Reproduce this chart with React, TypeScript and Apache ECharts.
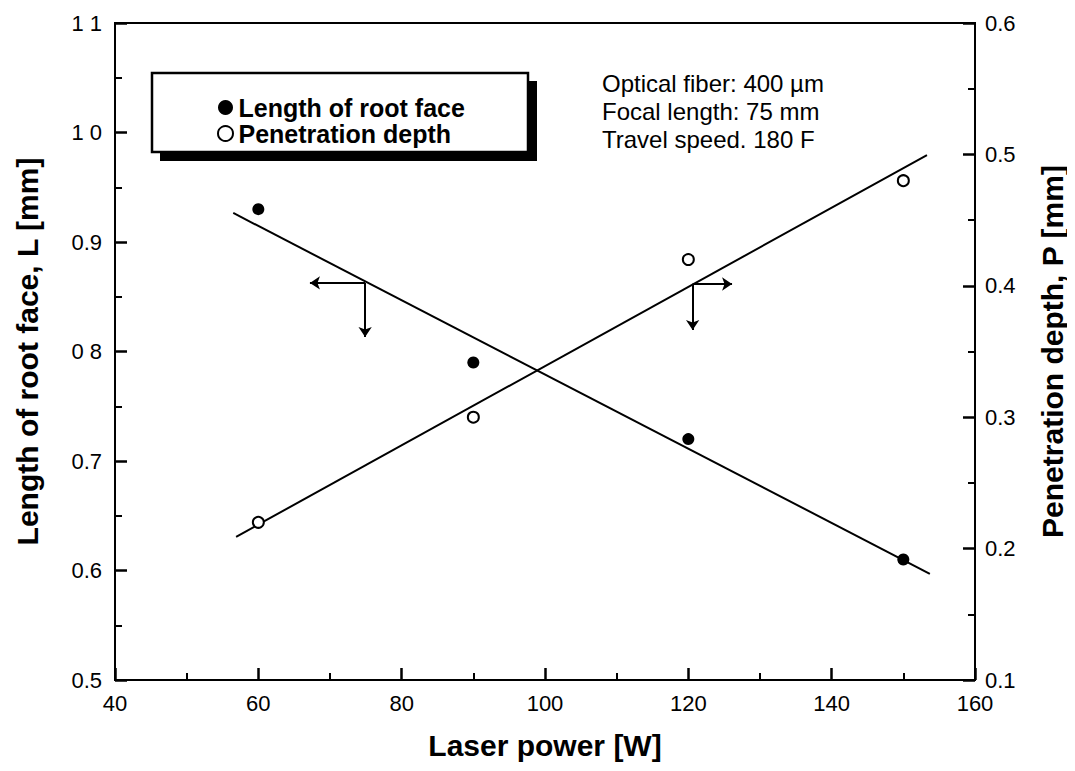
import React, { useEffect, useRef } from "react";
import * as echarts from "echarts";

const FONT = "'Liberation Sans', Arial, sans-serif";

// Laser power [W]
const laserPower = [60, 90, 120, 150];
// Length of root face, L [mm] (left axis)
const rootFace = [0.93, 0.79, 0.72, 0.61];
// Penetration depth, P [mm] (right axis)
const penetration = [0.22, 0.30, 0.42, 0.48];

// Linear fit lines (end points)
const rootFaceFit = [
  [56.5, 0.9265],
  [153.7, 0.597],
];
const penetrationFit = [
  [56.9, 0.209],
  [153.3, 0.4995],
];

// Axis-indicator arrows
const rootArrow = { x: 74.9, y: 0.8626, toX: 67.2, toY: 0.8132 };
const penArrow = { x: 120.6, y: 0.4014, toX: 126.1, toY: 0.3664 };

const leftLabelMap: Record<string, string> = { "1.1": "1 1", "1": "1 0", "0.8": "0 8" };

const annotationLines = [
  "Optical fiber: 400 \u00b5m",
  "Focal length: 75 mm",
  "Travel speed. 180 F",
];

export default function App() {
  const ref = useRef<HTMLDivElement>(null);
  useEffect(() => {
    if (!ref.current) return;
    const chart = echarts.init(ref.current, null, { renderer: "svg" });
    const axisCommon = {
      axisLine: { show: true, onZero: false, lineStyle: { color: "#000", width: 2 } },
      axisTick: { show: true, inside: true, length: 12, lineStyle: { color: "#000", width: 2.5 } },
      minorTick: { show: true, splitNumber: 2, length: 7, lineStyle: { color: "#000", width: 2 } },
      splitLine: { show: false },
      axisLabel: { color: "#000", fontSize: 22, fontFamily: FONT },
      nameTextStyle: { color: "#000", fontSize: 30, fontWeight: "bold", fontFamily: FONT },
    };
    const arrowLine = (a: { x: number; y: number; toX: number; toY: number }) => [
      [{ coord: [a.x, a.y] }, { coord: [a.toX, a.y] }],
      [{ coord: [a.x, a.y] }, { coord: [a.x, a.toY] }],
    ];
    chart.setOption({
      animation: false,
      backgroundColor: "#fff",
      textStyle: { fontFamily: FONT },
      grid: {
        left: 115,
        right: 100,
        top: 23,
        bottom: 91,
        show: true,
        borderColor: "#000",
        borderWidth: 2,
        backgroundColor: "transparent",
      },
      legend: {
        orient: "vertical",
        left: 212,
        top: 90,
        itemGap: 1,
        itemWidth: 16,
        itemHeight: 15,
        textStyle: { fontSize: 25, fontWeight: "bold", color: "#000", fontFamily: FONT, lineHeight: 25 },
        data: [
          { name: "Length of root face", icon: "circle", itemStyle: { color: "#000", opacity: 1 } },
          {
            name: "Penetration depth",
            icon: "emptyCircle",
            itemStyle: { color: "#000", borderColor: "#000", borderWidth: 3.5, opacity: 1 },
          },
        ],
        z: 10,
      },
      xAxis: {
        type: "value",
        min: 40,
        max: 160,
        interval: 20,
        name: "Laser power [W]",
        nameLocation: "middle",
        nameGap: 50,
        ...axisCommon,
        axisLabel: { ...axisCommon.axisLabel, margin: 12 },
      },
      yAxis: [
        {
          type: "value",
          min: 0.5,
          max: 1.1,
          interval: 0.1,
          name: "Length of root face, L [mm]",
          nameLocation: "middle",
          nameGap: 73,
          ...axisCommon,
          axisLabel: {
            ...axisCommon.axisLabel,
            margin: 13,
            formatter: (v: number) => {
              const k = String(Math.round(v * 10) / 10);
              return leftLabelMap[k] ?? (Math.round(v * 10) / 10).toFixed(1);
            },
          },
        },
        {
          type: "value",
          position: "right",
          min: 0.1,
          max: 0.6,
          interval: 0.1,
          name: "Penetration depth, P [mm]",
          nameLocation: "middle",
          nameGap: 62,
          nameRotate: 90,
          ...axisCommon,
          axisLabel: {
            ...axisCommon.axisLabel,
            margin: 10,
            formatter: (v: number) => (Math.round(v * 10) / 10).toFixed(1),
          },
        },
      ],
      graphic: [
        {
          type: "rect",
          z: 1,
          shape: { x: 160, y: 81, width: 377, height: 80 },
          style: { fill: "#000" },
        },
        {
          type: "rect",
          z: 2,
          shape: { x: 152, y: 73, width: 376, height: 79 },
          style: { fill: "#fff", stroke: "#000", lineWidth: 2.5 },
        },
        {
          type: "text",
          z: 3,
          left: 602,
          top: 69,
          style: {
            text: annotationLines.join("\n"),
            fontSize: 24,
            lineHeight: 28,
            fill: "#000",
            fontFamily: FONT,
          },
        },
      ],
      series: [
        {
          name: "Length of root face",
          type: "scatter",
          yAxisIndex: 0,
          symbol: "circle",
          symbolSize: 12,
          itemStyle: { color: "#000", opacity: 1 },
          data: laserPower.map((x, i) => [x, rootFace[i]]),
          z: 5,
        },
        {
          name: "Penetration depth",
          type: "scatter",
          yAxisIndex: 1,
          symbol: "emptyCircle",
          symbolSize: 11,
          itemStyle: { color: "#000", borderWidth: 2, opacity: 1 },
          data: laserPower.map((x, i) => [x, penetration[i]]),
          z: 5,
        },
        {
          name: "rootFit",
          type: "line",
          yAxisIndex: 0,
          showSymbol: false,
          lineStyle: { color: "#000", width: 2 },
          data: rootFaceFit,
          markLine: {
            silent: true,
            symbol: ["none", "arrow"],
            symbolSize: 10,
            label: { show: false },
            itemStyle: { color: "#000" },
            lineStyle: { color: "#000", width: 2, type: "solid" },
            data: arrowLine(rootArrow),
          },
        },
        {
          name: "penFit",
          type: "line",
          yAxisIndex: 1,
          showSymbol: false,
          lineStyle: { color: "#000", width: 2 },
          data: penetrationFit,
          markLine: {
            silent: true,
            symbol: ["none", "arrow"],
            symbolSize: 10,
            label: { show: false },
            itemStyle: { color: "#000" },
            lineStyle: { color: "#000", width: 2, type: "solid" },
            data: arrowLine(penArrow),
          },
        },
      ],
    });
    return () => chart.dispose();
  }, []);
  return <div ref={ref} style={{ width: 1075, height: 771, margin: -8 }} />;
}
